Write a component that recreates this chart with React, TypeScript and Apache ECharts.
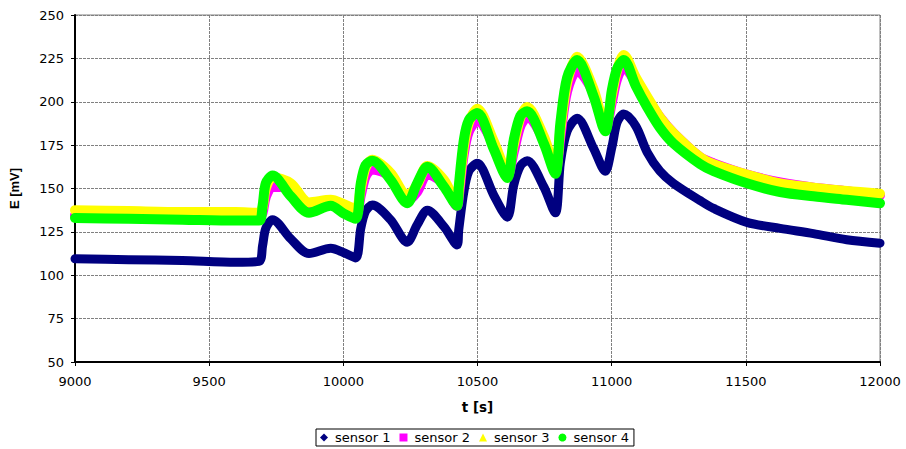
import React, { useEffect, useRef } from "react";
import * as echarts from "echarts";

const T = [9000, 9200, 9400, 9600, 9686, 9699, 9711, 9736, 9804, 9872, 9953, 10002, 10046, 10065, 10083, 10108, 10176, 10238, 10275, 10313, 10375, 10424, 10430, 10449, 10468, 10499, 10561, 10611, 10635, 10660, 10685, 10747, 10790, 10809, 10834, 10871, 10933, 10976, 11001, 11020, 11045, 11090, 11132, 11180, 11230, 11330, 11380, 11504, 11628, 11752, 11876, 12000];

const sensor1 = [109.5, 109, 108.5, 107.5, 108, 117, 127, 132, 121, 112.5, 115.5, 113, 110, 127, 137, 140.5, 132, 119, 129, 137.5, 128, 117.5, 126, 148, 160, 164.5, 146, 133.5, 152, 163, 166, 151, 136, 165, 183, 190.5, 173, 160, 174, 188, 193, 186, 171, 160, 153, 143, 138.5, 130.5, 127, 124, 120.5, 118.5];
const sensor2 = [134.5, 134, 134, 133.5, 133.5, 136, 145, 151, 150, 139, 142, 139, 135, 146, 157, 161, 157, 143, 148, 158, 153, 140, 145, 170, 183, 189, 175, 157, 171, 186, 191, 178, 160, 180, 206, 218, 205, 184, 200, 213, 220, 211, 202, 191, 182, 168, 164.5, 158, 153.5, 150.5, 148.5, 146];
const sensor3 = [137.5, 137, 136.5, 136.5, 136, 139, 150, 156.5, 153, 142, 143.5, 141, 138, 150, 162, 166.5, 159, 146, 152, 163, 155, 142, 148, 174, 188, 196, 177, 160, 175, 191, 197, 180, 162, 184, 211, 226, 207, 186, 204, 218, 227, 214, 203, 191, 182, 168, 164, 158, 153, 150.5, 148.5, 147];
const sensor4 = [133, 132.5, 132, 131.5, 131.5, 140, 153, 157.5, 145.5, 136, 140, 135.5, 132.5, 153, 163.5, 166, 155, 141.5, 153, 162.5, 151, 140, 151, 178, 189.5, 193.5, 172.5, 156, 178, 192, 194.5, 176, 158.5, 188, 214, 224, 203, 183, 207, 219, 224, 209, 197, 185, 176, 164, 160, 153, 148, 145.5, 143.5, 141.5];

const seriesNames = ["sensor 1", "sensor 2", "sensor 3", "sensor 4"];
const seriesValues = [sensor1, sensor2, sensor3, sensor4];
const colors = ["#000080", "#FF00FF", "#FFFF00", "#00FF00"];
const icons = ["diamond", "rect", "triangle", "circle"];
const widths = [9, 10, 10, 10];

const WIDE = "'DejaVu Sans', Verdana, sans-serif";
const ARIAL = "'Liberation Sans', Arial, sans-serif";

export default function App() {
  const ref = useRef<HTMLDivElement>(null);
  useEffect(() => {
    if (!ref.current) return;
    const chart = echarts.init(ref.current, undefined, { renderer: "svg" });
    chart.setOption({
      animation: false,
      textStyle: { fontFamily: WIDE },
      grid: {
        left: 74,
        right: 26,
        top: 15,
        bottom: 87,
        show: true,
        borderColor: "#808080",
        borderWidth: 1,
      },
      legend: {
        bottom: 3,
        left: 316,
        orient: "horizontal",
        borderColor: "#000",
        borderWidth: 1,
        borderRadius: 0,
        padding: [2, 5, 2, 4],
        itemGap: 9,
        itemWidth: 8,
        itemHeight: 8,
        textStyle: { fontFamily: WIDE, fontSize: 13, color: "#000", padding: [0, 0, 0, 2] },
        data: seriesNames.map((n, i) => ({ name: n, icon: icons[i] })),
      },
      xAxis: {
        type: "value",
        min: 9000,
        max: 12000,
        interval: 500,
        name: "t [s]",
        nameLocation: "middle",
        nameGap: 38,
        nameTextStyle: { fontFamily: WIDE, fontSize: 13.5, fontWeight: "bold", color: "#000" },
        axisLine: { show: true, onZero: false, lineStyle: { color: "#000", width: 2 } },
        axisTick: { show: true, length: 4, lineStyle: { color: "#000" } },
        axisLabel: {
          fontFamily: WIDE,
          fontSize: 13,
          color: "#000",
          margin: 13,
          formatter: (v: number) => String(v),
        },
        splitLine: { show: true, lineStyle: { color: "#808080", width: 1, type: [3, 1] } },
      },
      yAxis: {
        type: "value",
        min: 50,
        max: 250,
        interval: 25,
        name: "E [mV]",
        nameLocation: "middle",
        nameGap: 54,
        nameRotate: 90,
        nameTextStyle: { fontFamily: ARIAL, fontSize: 13, fontWeight: "bold", color: "#000" },
        axisLine: { show: true, lineStyle: { color: "#000", width: 2 } },
        axisTick: { show: true, length: 4, lineStyle: { color: "#000" } },
        axisLabel: {
          fontFamily: WIDE,
          fontSize: 13,
          color: "#000",
          margin: 11,
          formatter: (v: number) => String(v),
        },
        splitLine: { show: true, lineStyle: { color: "#808080", width: 1, type: [3, 1] } },
      },
      series: seriesNames.map((name, i) => ({
        name,
        type: "line",
        data: T.map((t, k) => [t, seriesValues[i][k]]),
        smooth: 0.3,
        showSymbol: false,
        symbol: icons[i],
        color: colors[i],
        lineStyle: { width: widths[i], color: colors[i], cap: "round", join: "round" },
        itemStyle: { color: colors[i] },
        z: 2 + i,
      })),
    });
    return () => chart.dispose();
  }, []);
  return (
    <div
      ref={ref}
      style={{ position: "absolute", left: 0, top: 0, width: 906, height: 449 }}
    />
  );
}
